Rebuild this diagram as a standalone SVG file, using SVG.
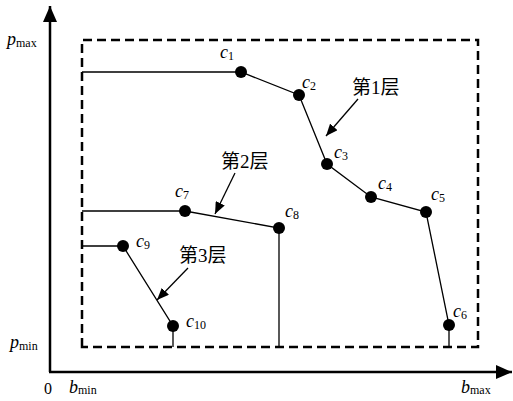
<svg xmlns="http://www.w3.org/2000/svg" width="513" height="401" viewBox="0 0 513 401">
<defs>
<marker id="ah" viewBox="0 0 12 10" refX="12" refY="5" markerWidth="12" markerHeight="10" markerUnits="userSpaceOnUse" orient="auto"><path d="M0,0 L12,5 L0,10 Z" fill="#000"/></marker>
<marker id="axh" viewBox="0 0 16 14" refX="16" refY="7" markerWidth="16" markerHeight="14" markerUnits="userSpaceOnUse" orient="auto"><path d="M0,0 L16,7 L0,14 Z" fill="#000"/></marker>
</defs>
<style>
.ax{stroke:#000;stroke-width:2.5;fill:none}
.box{stroke:#000;stroke-width:2.5;fill:none;stroke-dasharray:9 5}
.ln{stroke:#000;stroke-width:1.3;fill:none}
.dot{fill:#000}
.it{font-family:"Liberation Serif",serif;font-style:italic;font-size:18px}
.sub{font-family:"Liberation Serif",serif;font-style:normal;font-size:12px}
.rm{font-family:"Liberation Serif",serif;font-size:16px}
.cn{font-family:"Liberation Serif","Noto Sans CJK SC",serif;font-size:19px}
</style>
<rect width="513" height="401" fill="#fff"/>
<g id="axes">
<line class="ax" x1="50" y1="372" x2="50" y2="6" marker-end="url(#axh)"/>
<line class="ax" x1="49" y1="372" x2="512" y2="372" marker-end="url(#axh)"/>
<path class="box" d="M82,347 L82,40 L478,40 L478,347 Z"/>
</g>
<g id="connectors">
<polyline class="ln" points="82,72 241,72 299,95 327,164 371,197 426,212 449,325 449,347"/>
<polyline class="ln" points="82,211 185,211 279,228 279,347"/>
<polyline class="ln" points="82,246 123,246 173,326 173,347"/>
<line class="ln" x1="358" y1="99" x2="326" y2="136" marker-end="url(#ah)"/>
<line class="ln" x1="235" y1="173" x2="215" y2="214" marker-end="url(#ah)"/>
<line class="ln" x1="188" y1="268" x2="157" y2="300" marker-end="url(#ah)"/>
</g>
<g id="c1"><circle class="dot" cx="241" cy="72" r="6"/><text class="it" x="220" y="58">c<tspan class="sub" dy="2">1</tspan></text></g>
<g id="c2"><circle class="dot" cx="299" cy="95" r="6"/><text class="it" x="302" y="88">c<tspan class="sub" dy="2">2</tspan></text></g>
<g id="c3"><circle class="dot" cx="327" cy="164" r="6"/><text class="it" x="334" y="158">c<tspan class="sub" dy="2">3</tspan></text></g>
<g id="c4"><circle class="dot" cx="371" cy="197" r="6"/><text class="it" x="378" y="189">c<tspan class="sub" dy="2">4</tspan></text></g>
<g id="c5"><circle class="dot" cx="426" cy="212" r="6"/><text class="it" x="431" y="200">c<tspan class="sub" dy="2">5</tspan></text></g>
<g id="c6"><circle class="dot" cx="449" cy="325" r="6"/><text class="it" x="453" y="317">c<tspan class="sub" dy="2">6</tspan></text></g>
<g id="c7"><circle class="dot" cx="185" cy="211" r="6"/><text class="it" x="175" y="197">c<tspan class="sub" dy="2">7</tspan></text></g>
<g id="c8"><circle class="dot" cx="279" cy="228" r="6"/><text class="it" x="285" y="217">c<tspan class="sub" dy="2">8</tspan></text></g>
<g id="c9"><circle class="dot" cx="123" cy="246" r="6"/><text class="it" x="136" y="247">c<tspan class="sub" dy="2">9</tspan></text></g>
<g id="c10"><circle class="dot" cx="173" cy="326" r="6"/><text class="it" x="186" y="327">c<tspan class="sub" dy="2">10</tspan></text></g>
<g id="labels">
<text class="cn" x="352" y="94">第1层</text>
<text class="cn" x="221" y="168">第2层</text>
<text class="cn" x="179" y="262">第3层</text>
<text class="it" x="7" y="45">p<tspan class="sub" dy="2">max</tspan></text>
<text class="it" x="10" y="348">p<tspan class="sub" dy="2">min</tspan></text>
<text class="rm" x="44" y="394">0</text>
<text class="it" x="69" y="393">b<tspan class="sub" dy="1">min</tspan></text>
<text class="it" x="461" y="393">b<tspan class="sub" dy="1">max</tspan></text>
</g>
</svg>
